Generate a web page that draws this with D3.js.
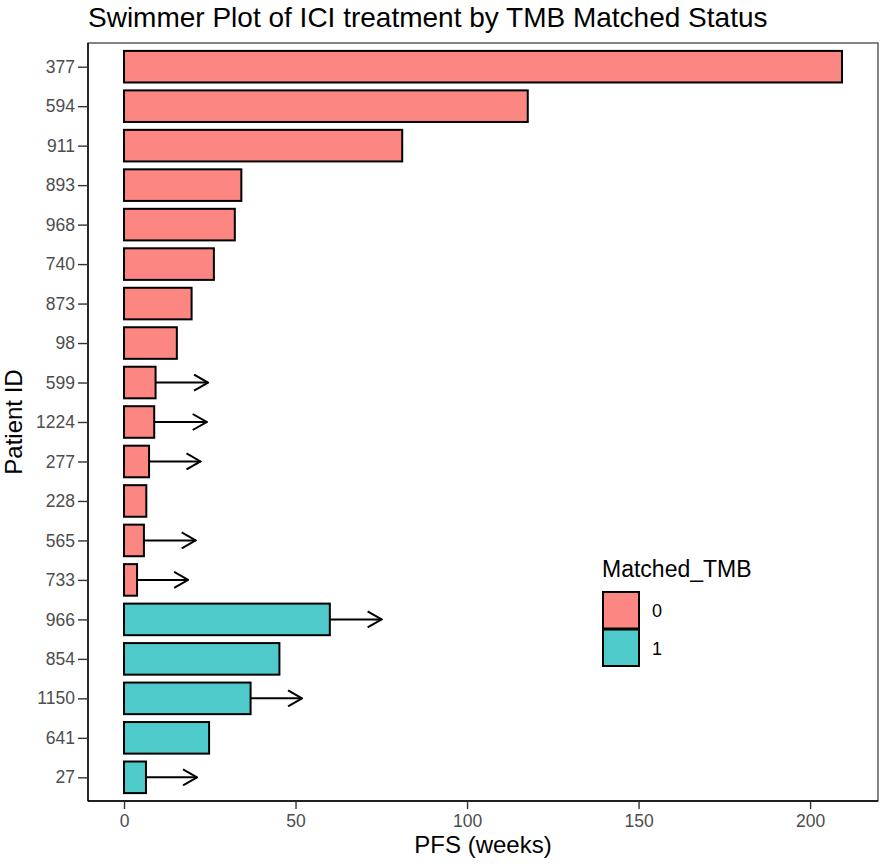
<!DOCTYPE html>
<html>
<head>
<meta charset="utf-8">
<script src="https://cdn.jsdelivr.net/npm/d3@7/dist/d3.min.js"></script>
<style>
  html, body { margin: 0; padding: 0; background: #fff; }
  svg { display: block; }
  svg text { font-family: "Liberation Sans", Arial, Helvetica, sans-serif; }
</style>
</head>
<body>
<svg id="chart" width="886" height="867"></svg>
<script>
// ---- Data ----
const patientIds = ["377","594","911","893","968","740","873","98","599","1224","277","228","565","733","966","854","1150","641","27"];
const pfsWeeks   = [209.3,117.7,81.1,34.2,32.3,26.2,19.7,15.4,9.2,8.8,7.3,6.5,5.8,3.8,60.0,45.3,36.9,24.8,6.4];
const matchedTmb = ["0","0","0","0","0","0","0","0","0","0","0","0","0","0","1","1","1","1","1"];
// arrow tip (continuing response), null = no arrow
const arrowEnd   = [null,null,null,null,null,null,null,null,24.5,24.1,22.3,null,20.9,18.7,75.1,null,51.9,null,21.3];
const xTicks     = [0,50,100,150,200];
const groups     = ["0","1"];
const groupColors = ["#FC8682","#4ECACB"];

const rows = patientIds.map((id,i)=>({id, pfs:pfsWeeks[i], grp:matchedTmb[i], arrow:arrowEnd[i]}));

const svg = d3.select("#chart");
const panel = {left:88, right:878, top:43, bottom:801};

const x = d3.scaleLinear().domain([-10.5, 219.8]).range([panel.left, panel.right]);
const y = d3.scalePoint().domain(patientIds).range([panel.top, panel.bottom]).padding(0.6);
const color = d3.scaleOrdinal().domain(groups).range(groupColors);
const barH = y.step()*0.8;

// marker for arrows
svg.append("defs").append("marker")
  .attr("id","arrowhead")
  .attr("viewBox","0 0 16 18")
  .attr("refX",15).attr("refY",9)
  .attr("markerWidth",16).attr("markerHeight",18)
  .attr("markerUnits","userSpaceOnUse")
  .attr("orient","auto")
  .append("path")
  .attr("d","M1,1 L15,9 L1,17")
  .attr("fill","none").attr("stroke","#000").attr("stroke-width",2)
  .attr("stroke-linejoin","miter");

// arrows
svg.append("g").selectAll("line")
  .data(rows.filter(d=>d.arrow!==null))
  .join("line")
  .attr("x1", d=>x(d.pfs)).attr("x2", d=>x(d.arrow))
  .attr("y1", d=>y(d.id)).attr("y2", d=>y(d.id))
  .attr("stroke","#000").attr("stroke-width",2)
  .attr("marker-end","url(#arrowhead)");

// bars
svg.append("g").selectAll("rect")
  .data(rows)
  .join("rect")
  .attr("x", x(0))
  .attr("y", d=>y(d.id)-barH/2)
  .attr("width", d=>x(d.pfs)-x(0))
  .attr("height", barH)
  .attr("fill", d=>color(d.grp))
  .attr("stroke","#000").attr("stroke-width",2);

// panel border
svg.append("rect")
  .attr("x",panel.left).attr("y",panel.top)
  .attr("width",panel.right-panel.left).attr("height",panel.bottom-panel.top)
  .attr("fill","none").attr("stroke","#333").attr("stroke-width",1.2);

const tickFont = 17.5;

// x axis
const xAxis = svg.append("g")
  .attr("transform",`translate(0,${panel.bottom})`)
  .call(d3.axisBottom(x).tickValues(xTicks).tickSize(8).tickPadding(6));
xAxis.attr("font-size", tickFont).attr("font-family", null);
xAxis.select(".domain").attr("stroke","#000").attr("stroke-width",1.4).attr("d",`M${panel.left},0H${panel.right}`);
xAxis.selectAll(".tick line").attr("stroke","#333").attr("stroke-width",1.4);
xAxis.selectAll(".tick text").attr("fill","#4D4D4D").attr("font-size", tickFont).style("font-size", tickFont+"px");

// y axis
const yAxis = svg.append("g")
  .attr("transform",`translate(${panel.left},0)`)
  .call(d3.axisLeft(y).tickSize(10).tickPadding(3));
yAxis.attr("font-size", tickFont).attr("font-family", null);
yAxis.select(".domain").attr("stroke","#000").attr("stroke-width",1.4).attr("d",`M0,${panel.top}V${panel.bottom}`);
yAxis.selectAll(".tick line").attr("stroke","#333").attr("stroke-width",1.4);
yAxis.selectAll(".tick text").attr("fill","#4D4D4D").attr("font-size", tickFont).style("font-size", tickFont+"px");

// title
svg.append("text")
  .attr("x",panel.left).attr("y",27)
  .attr("font-size",28).attr("fill","#000")
  .text("Swimmer Plot of ICI treatment by TMB Matched Status");

// axis titles
svg.append("text")
  .attr("x",(panel.left+panel.right)/2).attr("y",853)
  .attr("text-anchor","middle")
  .attr("font-size",24).attr("fill","#000")
  .text("PFS (weeks)");

svg.append("text")
  .attr("transform",`translate(22,${(panel.top+panel.bottom)/2}) rotate(-90)`)
  .attr("text-anchor","middle")
  .attr("font-size",24).attr("fill","#000")
  .text("Patient ID");

// legend
const lg = svg.append("g").attr("transform","translate(602,0)");
lg.append("text").attr("x",0).attr("y",577)
  .attr("font-size",23).attr("fill","#000").text("Matched_TMB");
const keyH = 37.5;
groups.forEach((g,i)=>{
  lg.append("rect")
    .attr("x",1).attr("y",592+i*keyH)
    .attr("width",36).attr("height",keyH-1)
    .attr("fill",color(g)).attr("stroke","#000").attr("stroke-width",2);
  lg.append("text")
    .attr("x",50).attr("y",592+i*keyH+keyH/2)
    .attr("dy","0.36em")
    .attr("font-size",18).attr("fill","#000").text(g);
});
</script>
</body>
</html>
